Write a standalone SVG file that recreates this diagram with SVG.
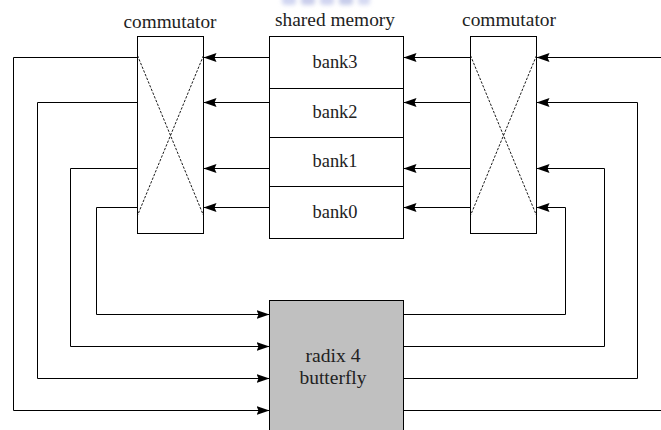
<svg xmlns="http://www.w3.org/2000/svg" width="661" height="430" viewBox="0 0 661 430">
<style>
.box{fill:#fff;stroke:#000;stroke-width:1}
.bf{fill:#c0c0c0;stroke:#000;stroke-width:1}
.dash{fill:none;stroke:#000;stroke-width:0.9;stroke-dasharray:2.5,1.5}
.wire{fill:none;stroke:#000;stroke-width:1}
.arr{fill:none;stroke:#000;stroke-width:1;marker-end:url(#ah)}
</style>
<defs>
<marker id="ah" markerUnits="userSpaceOnUse" markerWidth="14" markerHeight="11" refX="13" refY="5.5" orient="auto">
<path d="M0,1 L13,5.5 L0,10 L2,5.5 z" fill="#000"/>
</marker>
<filter id="blur" x="-50%" y="-50%" width="200%" height="200%"><feGaussianBlur stdDeviation="2.2"/></filter>
</defs>
<g id="artifact" filter="url(#blur)" opacity="0.55">
<rect x="282" y="-6" width="14" height="11" rx="3" fill="#aab4e6"/>
<rect x="301" y="-6" width="14" height="11" rx="3" fill="#9fa6dc"/>
<rect x="320" y="-6" width="14" height="11" rx="3" fill="#aab2e4"/>
<rect x="339" y="-6" width="14" height="11" rx="3" fill="#9aa4da"/>
<rect x="358" y="-6" width="12" height="11" rx="3" fill="#b4bce8"/>
</g>
<g font-family="Liberation Serif, Times New Roman, serif" font-size="19" fill="#222" text-anchor="middle">
<g id="commutator-left">
<rect class="box" x="137.5" y="36.5" width="66" height="197"/>
<path class="dash" d="M137.5,55.5 L203.5,215.5 M203.5,55.5 L137.5,215.5"/>
<text x="170" y="28" textLength="93" lengthAdjust="spacingAndGlyphs" font-family="Liberation Serif">commutator</text>
</g>
<g id="shared-memory">
<rect class="box" x="269.5" y="36.5" width="134" height="202"/>
<path class="wire" d="M269.5,88.5 H403.5 M269.5,137.5 H403.5 M269.5,186.5 H403.5"/>
<text x="335" y="26" textLength="120" lengthAdjust="spacingAndGlyphs" font-family="Liberation Serif">shared memory</text>
<text x="335" y="68" textLength="45" lengthAdjust="spacingAndGlyphs" font-family="Liberation Serif">bank3</text>
<text x="335" y="118" textLength="45" lengthAdjust="spacingAndGlyphs" font-family="Liberation Serif">bank2</text>
<text x="335" y="167" textLength="45" lengthAdjust="spacingAndGlyphs" font-family="Liberation Serif">bank1</text>
<text x="335" y="218" textLength="45" lengthAdjust="spacingAndGlyphs" font-family="Liberation Serif">bank0</text>
</g>
<g id="commutator-right">
<rect class="box" x="470.5" y="36.5" width="66" height="197"/>
<path class="dash" d="M470.5,55.5 L536.5,215.5 M536.5,55.5 L470.5,215.5"/>
<text x="509" y="26" textLength="94" lengthAdjust="spacingAndGlyphs" font-family="Liberation Serif">commutator</text>
</g>
<g id="butterfly">
<rect class="bf" x="269.5" y="300.5" width="134" height="140"/>
<text x="333" y="362" textLength="55" lengthAdjust="spacingAndGlyphs" font-family="Liberation Serif">radix 4</text>
<text x="333" y="384" textLength="67" lengthAdjust="spacingAndGlyphs" font-family="Liberation Serif">butterfly</text>
</g>
</g>
<g id="connectors">
<path class="arr" d="M269.5,57.5 H203.5"/>
<path class="arr" d="M269.5,102.5 H203.5"/>
<path class="arr" d="M269.5,168.5 H203.5"/>
<path class="arr" d="M269.5,207.5 H203.5"/>
<path class="arr" d="M470.5,57.5 H403.5"/>
<path class="arr" d="M470.5,102.5 H403.5"/>
<path class="arr" d="M470.5,168.5 H403.5"/>
<path class="arr" d="M470.5,207.5 H403.5"/>
<path class="arr" d="M137.5,57.5 H13.5 V410.5 H269.5"/>
<path class="arr" d="M137.5,102.5 H37.5 V378.5 H269.5"/>
<path class="arr" d="M137.5,168.5 H70.5 V346.5 H269.5"/>
<path class="arr" d="M137.5,207.5 H96.5 V314.5 H269.5"/>
<path class="arr" d="M403.5,314.5 H565.5 V207.5 H536.5"/>
<path class="arr" d="M403.5,346.5 H604.5 V168.5 H536.5"/>
<path class="arr" d="M403.5,378.5 H637.5 V102.5 H536.5"/>
<path class="wire" d="M403.5,410.5 H661"/>
<path class="arr" d="M661,57.5 H536.5"/>
</g>
</svg>
